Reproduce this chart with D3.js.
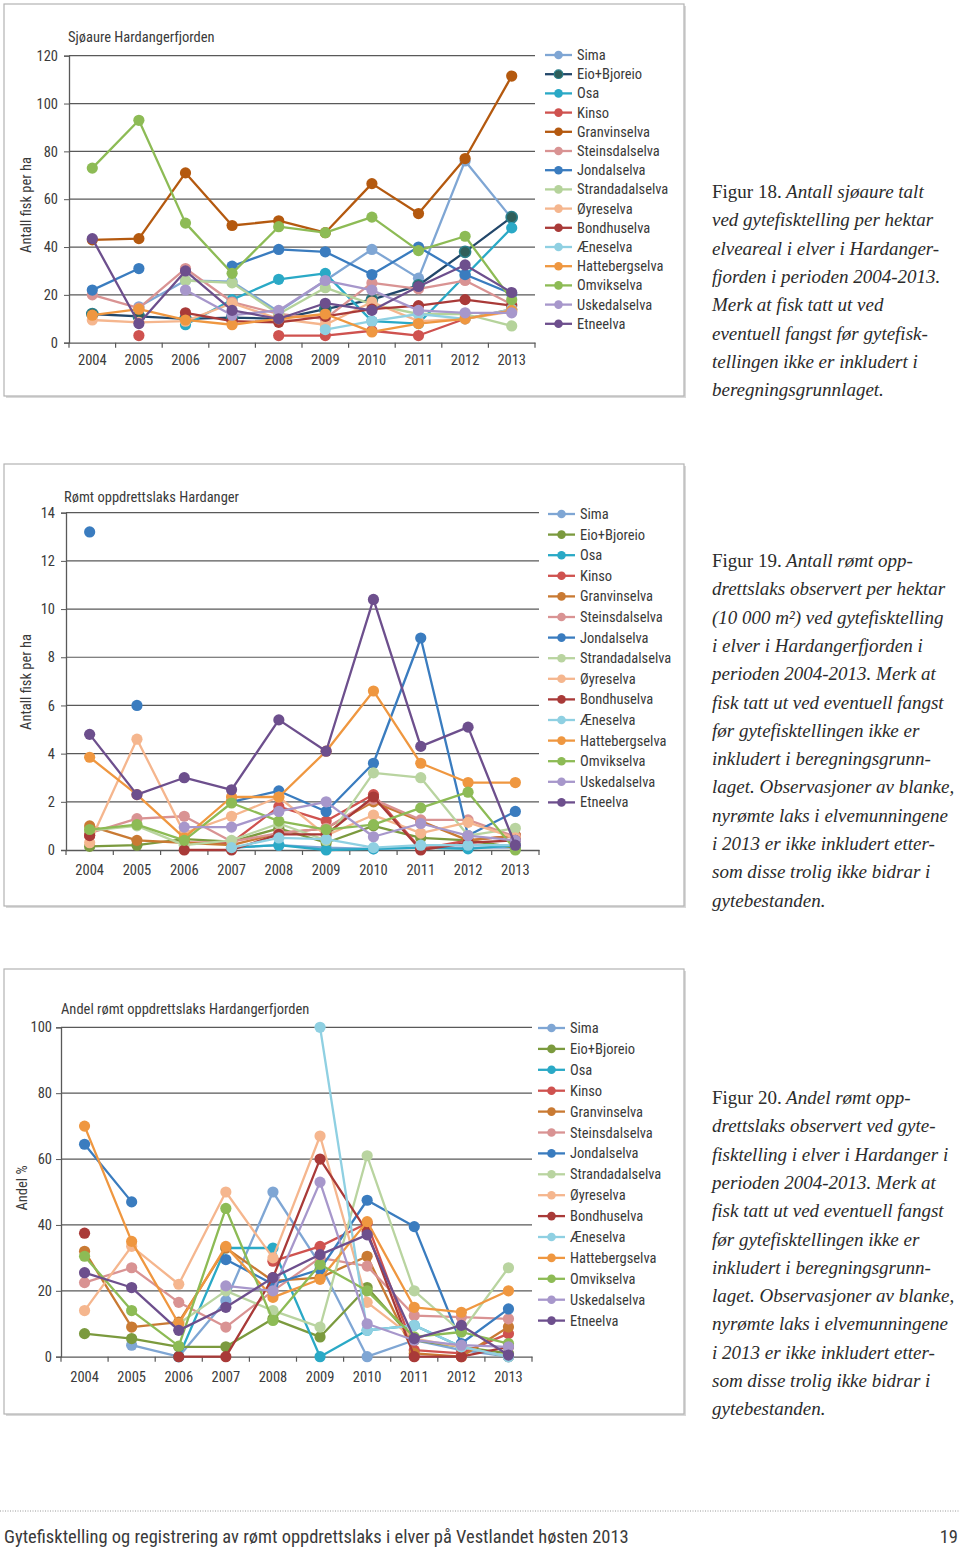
<!DOCTYPE html>
<html><head><meta charset="utf-8">
<script src="https://cdn.jsdelivr.net/npm/d3@7"></script>
<style>
html,body{margin:0;padding:0;background:#fff;}
svg{display:block;}
.ch{font-family:"Liberation Sans Narrow","Roboto Condensed","Roboto",sans-serif;fill:#3a3a3a;}
.cap{font-family:"Liberation Serif","DejaVu Serif",serif;fill:#2b2b2b;}
</style>
</head><body>
<script>
// ---------- DATA ----------
const years = [2004,2005,2006,2007,2008,2009,2010,2011,2012,2013];
const rivers = ["Sima","Eio+Bjoreio","Osa","Kinso","Granvinselva","Steinsdalselva","Jondalselva","Strandadalselva","Øyreselva","Bondhuselva","Æneselva","Hattebergselva","Omvikselva","Uskedalselva","Etneelva"];

// Figur 18: sjøaure per ha
const fig18Values = [
  [null,15,26,25.5,13,26,39,27,76,52],
  [12,11,10,10.5,10,14,18,24,38,52.5],
  [null,null,7.5,18,26.5,29,9,8,28,48],
  [null,3,null,null,3,3,5,3,10,14],
  [43,43.5,71,49,51,46,66.5,54,77,111.5],
  [20,14.5,31,17,12,10,25,22.5,26,16],
  [22,31,null,32,39,38,28.5,40,28.5,20.5],
  [null,null,26,25,12,23,16,12,12,7],
  [9.5,8.5,9,16.5,10,7.5,17,9,10,13],
  [null,null,12.5,9,8.5,11,14,15.5,18,15.5],
  [null,null,null,null,null,5.5,9,12,10,14],
  [11.5,14,9.5,7.5,10,12,4.5,8,10,13.5],
  [73,93,50,29,48.5,46,52.5,38.5,44.5,18],
  [null,null,22,11.5,13.5,26,22,13.5,12.5,12.5],
  [43.5,8,30,13.5,10,16.5,13.5,23.5,32.5,21]
];
// Figur 19: rømt oppdrettslaks per ha
const fig19Values = [
  [null,6.0,null,0.1,0.2,0.1,0.05,0.1,0.1,0.1],
  [0.15,0.2,0.45,0.35,0.9,0.3,1.0,0.5,0.4,0.1],
  [null,null,null,0.1,0.2,0.0,0.05,0.1,0.05,0.2],
  [0.6,null,0.3,0.3,1.8,1.2,2.3,0.05,0.4,0.6],
  [1.0,0.4,0.3,0.2,0.7,0.9,2.0,1.2,0.4,0.6],
  [0.7,1.3,1.4,0.35,0.7,0.9,2.1,1.25,1.25,0.55],
  [13.2,null,null,2.0,2.45,1.6,3.6,8.8,0.6,1.6],
  [0.8,1.0,0.2,0.4,1.1,0.4,3.2,3.0,0.6,0.9],
  [0.3,4.6,0.7,1.4,2.2,0.6,1.45,0.7,1.15,0.5],
  [0.6,null,0,0,0.65,0.65,2.2,0,0.3,0.4],
  [null,null,null,0.1,0.5,0.45,0.1,0.2,0.2,0.2],
  [3.85,2.3,0.5,2.2,2.2,4.1,6.6,3.6,2.8,2.8],
  [0.85,1.05,0.4,1.95,1.2,0.85,1.05,1.75,2.4,0],
  [null,null,0.95,0.95,1.6,2.0,0.55,1.1,0.6,0.4],
  [4.8,2.3,3.0,2.5,5.4,4.1,10.4,4.3,5.1,0.2]
];
// Figur 20: andel rømt oppdrettslaks (%)
const fig20Values = [
  [null,3.5,0,17,50,28,0,5,2,0],
  [7,5.5,3,3,11.5,6,21,5,3,1],
  [null,null,0,33,33,0,8,9.5,3,0],
  [null,null,null,null,29,33.5,40.5,2,1,7],
  [32,9,10.5,33,23,24,30.5,1,0,9],
  [22.5,27,16.5,9,20,30,27.5,12.5,12,11.5],
  [64.5,47,null,29.5,22,26.5,47.5,39.5,4,14.5],
  [null,null,10,20,14,9,61,20,7.5,27],
  [14,33.5,22,50,30,67,16.5,5.5,3,0],
  [37.5,null,0,0,24,60,38,0,0,3],
  [null,null,null,null,null,100,8,9.5,3,0],
  [70,35,10,33.5,18,23.5,41,15,13.5,20],
  [30.5,14,3.2,45,11,28,20,6,7.5,4],
  [null,null,null,21.5,20,53,10,5,3.5,3],
  [25.5,21,8,15,24,31,37,5.5,9.5,0.5]
];
const fig18Ticks = [0,20,40,60,80,100,120];
const fig19Ticks = [0,2,4,6,8,10,12,14];
const fig20Ticks = [0,20,40,60,80,100];

const colors18 = ["#7fa6d4","#22476a","#2aa9c6","#cf524f","#b4590f","#d99393","#3a7cbf","#b5d39b","#f5b68e","#a93a38","#8fd0e2","#ef9740","#8dbb55","#a797cb","#6d4f8d"];
const colors = ["#7fa6d4","#7b9a3e","#2aa9c6","#cf524f","#c97a33","#d99393","#3a7cbf","#b9d4a0","#f5b68e","#a93a38","#8fd0e2","#ef9740","#8dbb55","#a797cb","#6d4f8d"];

const W=960,H=1549;
const svg=d3.select("body").append("svg").attr("width",W).attr("height",H);

function chart(o){
  const g=svg.append("g");
  // frame with shadow
  g.append("rect").attr("x",o.frame[0]+2).attr("y",o.frame[1]+2).attr("width",o.frame[2]-o.frame[0]).attr("height",o.frame[3]-o.frame[1]).attr("fill","#d9d9d9");
  g.append("rect").attr("x",o.frame[0]).attr("y",o.frame[1]).attr("width",o.frame[2]-o.frame[0]).attr("height",o.frame[3]-o.frame[1]).attr("fill","#fff").attr("stroke","#b3b3b3").attr("stroke-width",1.2);
  const x=d3.scaleBand().domain(years).range([o.x0,o.x1]);
  const y=d3.scaleLinear().domain([0,o.ymax]).range([o.yb,o.yt]);
  // gridlines
  g.selectAll(".gl").data(o.ticks.filter(t=>t>0)).join("line")
    .attr("x1",o.x0).attr("x2",o.x1).attr("y1",d=>y(d)).attr("y2",d=>y(d))
    .attr("stroke","#595959").attr("stroke-width",1.2);
  // y axis
  const ya=g.append("g").attr("transform",`translate(${o.x0},0)`).call(d3.axisLeft(y).tickValues(o.ticks).tickSize(5).tickPadding(o.ypad));
  ya.select(".domain").attr("stroke","#595959").attr("stroke-width",1.3);
  ya.selectAll(".tick line").attr("stroke","#595959");
  ya.selectAll("text").attr("class","ch").attr("font-size",14.5).attr("fill","#404040");
  // x axis
  const xa=g.append("g").attr("transform",`translate(0,${o.yb})`).call(d3.axisBottom(x).tickSize(0).tickPadding(o.xpad));
  xa.select(".domain").attr("stroke","#595959").attr("stroke-width",1.3);
  xa.selectAll("text").attr("class","ch").attr("font-size",14.5).attr("fill","#404040");
  // category boundary ticks
  const bounds=years.map(d=>x(d)).concat([o.x1]);
  g.selectAll(".bt").data(bounds).join("line").attr("x1",d=>d).attr("x2",d=>d).attr("y1",o.yb).attr("y2",o.yb+5).attr("stroke","#595959").attr("stroke-width",1.2);
  // title
  g.append("text").attr("class","ch").attr("x",o.titleX).attr("y",o.titleY).attr("font-size",14.5).attr("fill","#262626").text(o.title);
  // y label
  g.append("text").attr("class","ch").attr("transform",`translate(${o.ylx},${o.yly}) rotate(-90)`).attr("text-anchor","middle").attr("font-size",14.5).attr("fill","#262626").text(o.ylabel);
  // series
  const cx=d=>x(d.year)+x.bandwidth()/2;
  const line=d3.line().defined(d=>d.v!=null).x(cx).y(d=>y(d.v));
  o.values.forEach((vals,i)=>{
    const pts=vals.map((v,j)=>({year:years[j],v:v}));
    const sg=g.append("g");
    sg.append("path").datum(pts).attr("d",line).attr("fill","none").attr("stroke",o.colors[i]).attr("stroke-width",2.3).attr("stroke-linejoin","round");
    sg.selectAll("circle").data(pts.filter(d=>d.v!=null)).join("circle")
      .attr("cx",cx).attr("cy",d=>y(d.v)).attr("r",5.6)
      .attr("fill",d=>(o.pointFill&&o.pointFill(i,d))||(o.markerFill? o.markerFill(i):o.colors[i]))
      .attr("stroke",o.markerStroke? o.markerStroke(i):"none").attr("stroke-width",1.5);
  });
  // legend
  const lg=g.append("g");
  rivers.forEach((r,i)=>{
    const ly=o.legY+o.legStep*i;
    lg.append("line").attr("x1",o.legX).attr("x2",o.legX+27).attr("y1",ly).attr("y2",ly).attr("stroke",o.colors[i]).attr("stroke-width",2.3);
    lg.append("circle").attr("cx",o.legX+13.5).attr("cy",ly).attr("r",4.3)
      .attr("fill",o.markerFill? o.markerFill(i):o.colors[i])
      .attr("stroke",o.markerStroke? o.markerStroke(i):"none").attr("stroke-width",1.2);
    lg.append("text").attr("class","ch").attr("x",o.legX+32).attr("y",ly+5).attr("font-size",14.5).attr("fill","#404040").text(r);
  });
}

chart({frame:[4,4,684,396],x0:69,x1:535,yb:342.7,yt:55.7,ymax:120,ticks:fig18Ticks,ypad:6,xpad:12,
  title:"Sjøaure Hardangerfjorden",titleX:68,titleY:42,ylabel:"Antall fisk per ha",ylx:31,yly:205,
  values:fig18Values,colors:colors18,legX:545,legY:55,legStep:19.2,
  markerFill:i=>i===1?"#2f5f5a":colors18[i], markerStroke:i=>i===1?"#2a7f8a":"none"});
chart({frame:[4,464,684,906],x0:66,x1:539,yb:850,yt:512.7,ymax:14,ticks:fig19Ticks,ypad:6,xpad:15,
  title:"Rømt oppdrettslaks Hardanger",titleX:64,titleY:502,ylabel:"Antall fisk per ha",ylx:31,yly:682,
  values:fig19Values,colors:colors,legX:548,legY:514,legStep:20.6,
  pointFill:(i,d)=>(i===0&&d.year===2005)?"#3a7cbf":null});
chart({frame:[4,969,684,1414],x0:61,x1:532,yb:1356.7,yt:1027.3,ymax:100,ticks:fig20Ticks,ypad:4,xpad:15,
  title:"Andel rømt oppdrettslaks Hardangerfjorden",titleX:61,titleY:1014,ylabel:"Andel %",ylx:27,yly:1188,
  values:fig20Values,colors:colors,legX:538,legY:1028,legStep:20.9});

// ---------- captions ----------
function caption(fig,lines,y0,step){
  const t=svg.append("text").attr("class","cap").attr("font-size",19);
  lines.forEach((ln,i)=>{
    const ts=t.append("tspan").attr("x",712).attr("y",y0+step*i);
    if(i===0){
      ts.append("tspan").attr("font-style","normal").text(fig);
      ts.append("tspan").attr("font-style","italic").text(" "+ln);
    } else ts.attr("font-style","italic").text(ln);
  });
}
caption("Figur 18.",["Antall sjøaure talt","ved gytefisktelling per hektar","elveareal i elver i Hardanger-","fjorden i perioden 2004-2013.","Merk at fisk tatt ut ved","eventuell fangst før gytefisk-","tellingen ikke er inkludert i","beregningsgrunnlaget."],198,28.3);
caption("Figur 19.",["Antall rømt opp-","drettslaks observert per hektar","(10 000 m²) ved gytefisktelling","i elver i Hardangerfjorden i","perioden 2004-2013. Merk at","fisk tatt ut ved eventuell fangst","før gytefisktellingen ikke er","inkludert i beregningsgrunn-","laget. Observasjoner av blanke,","nyrømte laks i elvemunningene","i 2013 er ikke inkludert etter-","som disse trolig ikke bidrar i","gytebestanden."],567,28.3);
caption("Figur 20.",["Andel rømt opp-","drettslaks observert ved gyte-","fisktelling i elver i Hardanger i","perioden 2004-2013. Merk at","fisk tatt ut ved eventuell fangst","før gytefisktellingen ikke er","inkludert i beregningsgrunn-","laget. Observasjoner av blanke,","nyrømte laks i elvemunningene","i 2013 er ikke inkludert etter-","som disse trolig ikke bidrar i","gytebestanden."],1104,28.3);

// ---------- footer ----------
svg.append("line").attr("x1",0).attr("x2",960).attr("y1",1511).attr("y2",1511).attr("stroke","#9a9a9a").attr("stroke-width",1).attr("stroke-dasharray","1,1.5");
svg.append("text").attr("class","ch").attr("x",4).attr("y",1543).attr("font-size",18.5).attr("fill","#999").text("Gytefisktelling og registrering av rømt oppdrettslaks i elver på Vestlandet høsten 2013");
svg.append("text").attr("class","ch").attr("x",958).attr("y",1543).attr("text-anchor","end").attr("font-size",18.5).attr("fill","#999").text("19");
</script>
</body></html>
